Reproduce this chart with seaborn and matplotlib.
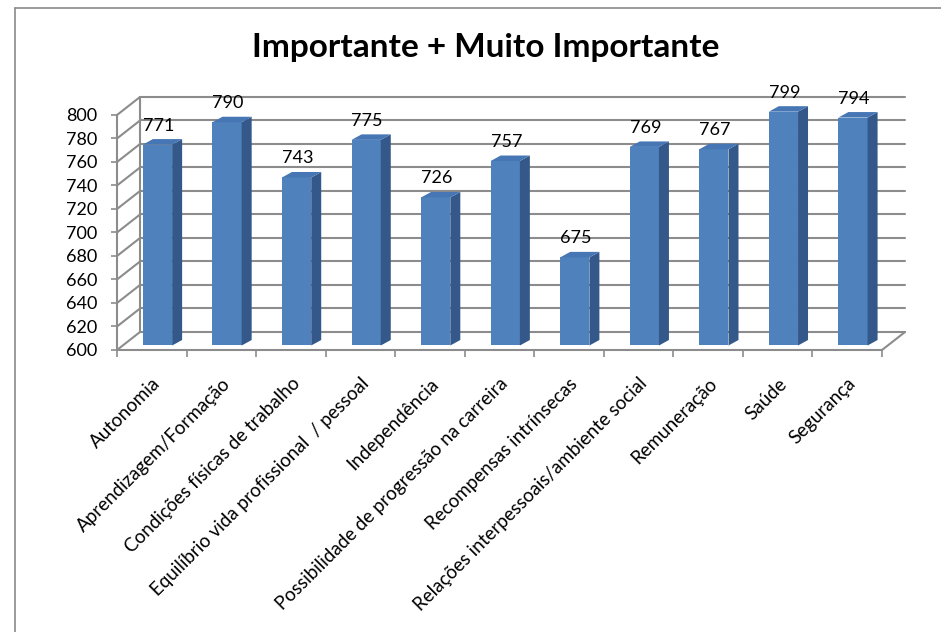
import numpy as np
import pandas as pd
import matplotlib
matplotlib.use("Agg")
import matplotlib.pyplot as plt
import seaborn as sns
from matplotlib.transforms import Affine2D, IdentityTransform
from matplotlib.patches import Polygon
from matplotlib.lines import Line2D

# ---- data ----
categories = [
    "Autonomia",
    "Aprendizagem/Formação",
    "Condições físicas de trabalho",
    "Equilíbrio vida profissional  / pessoal",
    "Independência",
    "Possibilidade de progressão na carreira",
    "Recompensas intrínsecas",
    "Relações interpessoais/ambiente social",
    "Remuneração",
    "Saúde",
    "Segurança",
]
values = [771, 790, 743, 775, 726, 757, 675, 769, 767, 799, 794]
title = "Importante + Muito Importante"
y_ticks = list(range(600, 801, 20))

# ---- style ----
sns.set_style("white")
plt.rcParams["font.family"] = ["Lato", "DejaVu Sans"]

FRONT = "#4F81BD"
SIDE = "#34588A"
TOP = "#4677B4"
GRID = "#8C8C8C"

W, H, DPI = 941, 632, 100
fig = plt.figure(figsize=(W / DPI, H / DPI), dpi=DPI)
ax = fig.add_axes([117 / W, 1 - 350 / H, (882 - 117) / W, (350 - 115) / H])

df = pd.DataFrame({"cat": categories, "val": values})
sns.barplot(data=df, x="cat", y="val", color=FRONT, saturation=1, width=0.42,
            ax=ax, zorder=2)

ymin, ymax = y_ticks[0], y_ticks[-1]
ax.set_xlim(-0.5, len(categories) - 0.5)
ax.set_ylim(ymin, ymax)
ax.autoscale(False)
for s in ax.spines.values():
    s.set_visible(False)
ax.set_xlabel("")
ax.set_ylabel("")

# depth vectors in display pixels (y up)
D = np.array([23.0, 18.0])   # full depth of the box
F0 = 0.25                     # bar front face depth fraction
BD = np.array([10.0, 5.5])   # bar depth


def proj(x, y, d=0.0):
    p = ax.transData.transform((x, y))
    return p + d * D


ident = IdentityTransform()


def line(p1, p2, lw=1.5, color=GRID, z=0.5):
    ax.add_line(Line2D([p1[0], p2[0]], [p1[1], p2[1]], transform=ident,
                       color=color, lw=lw, zorder=z, clip_on=False))


x0, x1 = -0.5, len(categories) - 0.5
# back wall gridlines + side wall diagonals
for v in y_ticks:
    line(proj(x0, v, 1), proj(x1, v, 1))
    line(proj(x0, v, 0), proj(x0, v, 1))
# wall edges
line(proj(x0, ymin, 1), proj(x0, ymax, 1))
line(proj(x0, ymin, 0), proj(x0, ymax, 0))
line(proj(x0, ymin, 0), proj(x1, ymin, 0))
line(proj(x1, ymin, 0), proj(x1, ymin, 1))

# bars: front faces from seaborn, plus side and top faces
off = F0 * D
for patch, val in zip(ax.patches, values):
    bx = patch.get_x()
    bw = patch.get_width()
    patch.set_y(ymin)
    patch.set_height(val - ymin)
    patch.set_transform(ax.transData + Affine2D().translate(*off))
    patch.set_clip_on(False)
    patch.set_edgecolor("none")
    # side face
    a = proj(bx + bw, ymin, F0)
    b = proj(bx + bw, val, F0)
    side = [a, b, b + BD, a + BD]
    ax.add_patch(Polygon(side, closed=True, transform=ident, facecolor=SIDE,
                         edgecolor="none", zorder=2, clip_on=False))
    # top face
    c = proj(bx, val, F0)
    top = [c, b, b + BD, c + BD]
    ax.add_patch(Polygon(top, closed=True, transform=ident, facecolor=TOP,
                         edgecolor="none", zorder=2, clip_on=False))
    # value label
    ax.text(bx + bw / 2, val, f"{val}",
            transform=ax.transData + Affine2D().translate(off[0] + 1, off[1] + 11),
            ha="center", va="bottom", fontsize=13, color="black", zorder=3)

# ticks
ax.set_yticks(y_ticks)
ax.tick_params(axis="y", which="major", length=4, color=GRID, width=1.2,
               labelsize=13, pad=10, left=True, labelcolor="black")
ax.set_xticks(range(len(categories)))
ax.set_xticklabels(categories, rotation=45, ha="right", rotation_mode="anchor",
                   fontsize=13.5, color="black")
ax.tick_params(axis="x", which="major", length=0, pad=18, bottom=True)
ax.set_xticks(np.arange(-0.5, len(categories), 1.0), minor=True)
ax.tick_params(axis="x", which="minor", length=5, color=GRID, width=1.2,
               bottom=True, direction="out")

# title
fig.text(486 / W, 1 - 47 / H, title, ha="center", va="center",
         fontsize=24, fontweight="bold", color="black")

# chart area border (only top and left edges are inside the image)
bx0, by0 = 15.5 / W, 1 - 7.5 / H
fig.add_artist(Line2D([bx0, 1.01], [by0, by0], transform=fig.transFigure,
                      color="#8A8A8A", lw=1.2))
fig.add_artist(Line2D([bx0, bx0], [by0, -0.01], transform=fig.transFigure,
                      color="#8A8A8A", lw=1.2))

fig.savefig("out.png", dpi=DPI)
